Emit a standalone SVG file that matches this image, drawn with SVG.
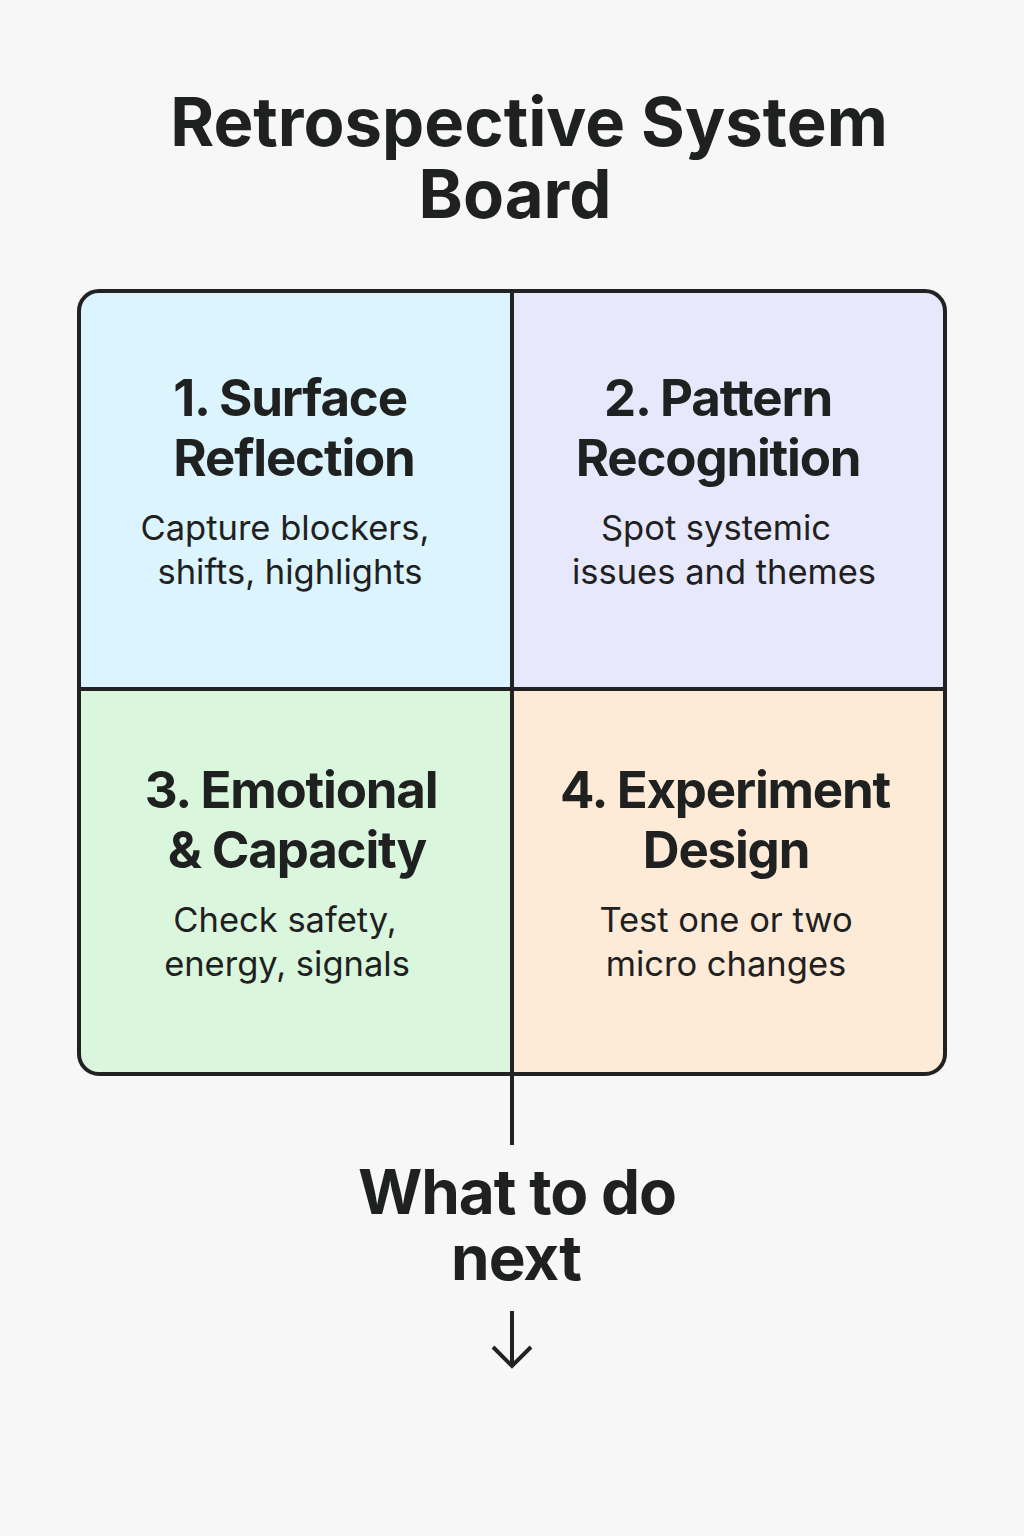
<svg xmlns="http://www.w3.org/2000/svg" width="1024" height="1536" viewBox="0 0 1024 1536">
<style>
.t{font-family:Inter,"Noto Sans",sans-serif;fill:#1f2121;text-anchor:middle}
.title{font-size:67px;font-weight:700}
.h{font-size:51px;font-weight:700;letter-spacing:-1.2px}
.b{font-size:34.5px;font-weight:400}
.n{font-size:62px;font-weight:700;letter-spacing:-1px}
.ln{stroke:#222;stroke-width:4;fill:none}
</style>
<rect width="1024" height="1536" fill="#f7f7f7"/>
<g id="title">
<text class="t title" x="529" y="146">Retrospective System</text>
<text class="t title" x="515" y="218">Board</text>
</g>
<g id="board">
<clipPath id="c"><rect x="79" y="291" width="866" height="783" rx="20"/></clipPath>
<g clip-path="url(#c)">
<rect x="79" y="291" width="433" height="398" fill="#dcf4fd"/>
<rect x="512" y="291" width="433" height="398" fill="#e8e8fc"/>
<rect x="79" y="689" width="433" height="385" fill="#daf6dc"/>
<rect x="512" y="689" width="433" height="385" fill="#feebd7"/>
</g>
<rect class="ln" x="79" y="291" width="866" height="783" rx="20"/>
</g>
<g id="q1">
<text class="t h" x="290" y="416">1. Surface</text>
<text class="t h" x="294" y="476">Reflection</text>
<text class="t b" x="285" y="540">Capture blockers,</text>
<text class="t b" x="290" y="584">shifts, highlights</text>
</g>
<g id="q2">
<text class="t h" x="718" y="416">2. Pattern</text>
<text class="t h" x="718" y="476">Recognition</text>
<text class="t b" x="716" y="540">Spot systemic</text>
<text class="t b" x="724" y="584">issues and themes</text>
</g>
<g id="q3">
<text class="t h" x="291" y="808">3. Emotional</text>
<text class="t h" x="297" y="868">&amp; Capacity</text>
<text class="t b" x="285" y="932">Check safety,</text>
<text class="t b" x="287" y="976">energy, signals</text>
</g>
<g id="q4">
<text class="t h" x="725" y="808">4. Experiment</text>
<text class="t h" x="726" y="868">Design</text>
<text class="t b" x="726" y="932">Test one or two</text>
<text class="t b" x="726" y="976">micro changes</text>
</g>
<g id="next">
<text class="t n" x="517" y="1214">What to do</text>
<text class="t n" x="516" y="1280">next</text>
</g>
<g id="connectors">
<line class="ln" x1="512" y1="291" x2="512" y2="1145"/>
<line class="ln" x1="79" y1="689" x2="945" y2="689"/>
<line class="ln" x1="512" y1="1311" x2="512" y2="1365" stroke-width="3"/>
<polyline class="ln" points="493,1347 512,1366 531,1347" stroke-width="3"/>
</g>
</svg>
